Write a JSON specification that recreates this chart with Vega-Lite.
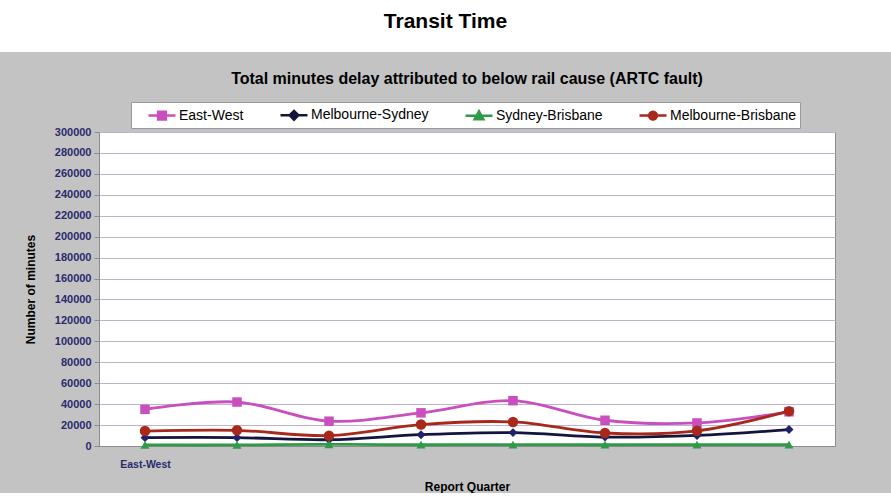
{
  "$schema": "https://vega.github.io/schema/vega-lite/v6.json",
  "background": "#c3c3c3",
  "padding": 0,
  "spacing": 18,
  "config": {
    "font": "Liberation Sans",
    "view": {"stroke": null}
  },
  "vconcat": [
    {
      "width": 891,
      "height": 52,
      "view": {"fill": "white", "stroke": null},
      "data": {"values": [{"heading": "Transit Time"}]},
      "mark": {"type": "text", "fontSize": 21, "fontWeight": "bold", "color": "black", "baseline": "middle", "dy": -4},
      "encoding": {"text": {"field": "heading"}}
    },
    {
      "spacing": 0,
      "hconcat": [
        {
          "width": 23,
          "height": 314,
          "data": {"values": []},
          "mark": "text",
          "encoding": {}
        },
        {
          "width": 736,
          "height": 314,
          "view": {"fill": "white", "stroke": "#8c8c8c"},
          "title": {
            "text": "Total minutes delay attributed to below rail cause (ARTC fault)",
            "fontSize": 16,
            "fontWeight": "bold",
            "color": "black",
            "anchor": "middle",
            "offset": 39
          },
          "data": {
            "values": [
              {"period": 1, "route": "East-West", "minutes": 35000},
              {"period": 2, "route": "East-West", "minutes": 42000},
              {"period": 3, "route": "East-West", "minutes": 23700},
              {"period": 4, "route": "East-West", "minutes": 31700},
              {"period": 5, "route": "East-West", "minutes": 43300},
              {"period": 6, "route": "East-West", "minutes": 24600},
              {"period": 7, "route": "East-West", "minutes": 22000},
              {"period": 8, "route": "East-West", "minutes": 32700},
              {"period": 1, "route": "Melbourne-Sydney", "minutes": 8000},
              {"period": 2, "route": "Melbourne-Sydney", "minutes": 8000},
              {"period": 3, "route": "Melbourne-Sydney", "minutes": 6000},
              {"period": 4, "route": "Melbourne-Sydney", "minutes": 10800},
              {"period": 5, "route": "Melbourne-Sydney", "minutes": 12800},
              {"period": 6, "route": "Melbourne-Sydney", "minutes": 8500},
              {"period": 7, "route": "Melbourne-Sydney", "minutes": 10100},
              {"period": 8, "route": "Melbourne-Sydney", "minutes": 15700},
              {"period": 1, "route": "Sydney-Brisbane", "minutes": 1000},
              {"period": 2, "route": "Sydney-Brisbane", "minutes": 1000},
              {"period": 3, "route": "Sydney-Brisbane", "minutes": 1500},
              {"period": 4, "route": "Sydney-Brisbane", "minutes": 1200},
              {"period": 5, "route": "Sydney-Brisbane", "minutes": 1400},
              {"period": 6, "route": "Sydney-Brisbane", "minutes": 1200},
              {"period": 7, "route": "Sydney-Brisbane", "minutes": 1300},
              {"period": 8, "route": "Sydney-Brisbane", "minutes": 1300},
              {"period": 1, "route": "Melbourne-Brisbane", "minutes": 14300},
              {"period": 2, "route": "Melbourne-Brisbane", "minutes": 15000},
              {"period": 3, "route": "Melbourne-Brisbane", "minutes": 9900},
              {"period": 4, "route": "Melbourne-Brisbane", "minutes": 20500},
              {"period": 5, "route": "Melbourne-Brisbane", "minutes": 23000},
              {"period": 6, "route": "Melbourne-Brisbane", "minutes": 12400},
              {"period": 7, "route": "Melbourne-Brisbane", "minutes": 14500},
              {"period": 8, "route": "Melbourne-Brisbane", "minutes": 33300}
            ]
          },
          "encoding": {
            "x": {
              "field": "period",
              "type": "ordinal",
              "scale": {"type": "point", "padding": 0.5},
              "axis": {
                "title": "Report Quarter",
                "titleFontSize": 12,
                "titleFontWeight": "bold",
                "titleColor": "black",
                "titlePadding": 12,
                "labelExpr": "datum.value == 1 ? 'East-West' : ''",
                "labelAngle": 0,
                "labelFontSize": 10.5,
                "labelFontWeight": "bold",
                "labelColor": "#2a2a6e",
                "labelPadding": 13,
                "ticks": false,
                "domainColor": "#8c8c8c"
              }
            },
            "y": {
              "field": "minutes",
              "type": "quantitative",
              "scale": {"domain": [0, 300000], "nice": false},
              "axis": {
                "title": "Number of minutes",
                "titleFontSize": 12,
                "titleFontWeight": "bold",
                "titleColor": "black",
                "titlePadding": 17,
                "values": [0, 20000, 40000, 60000, 80000, 100000, 120000, 140000, 160000, 180000, 200000, 220000, 240000, 260000, 280000, 300000],
                "format": "d",
                "labelFontSize": 11,
                "labelFontWeight": "bold",
                "labelColor": "#2a2a6e",
                "labelPadding": 3,
                "tickColor": "#8c8c8c",
                "tickSize": 5,
                "domainColor": "#8c8c8c",
                "gridColor": "#bdb5d0",
                "gridWidth": 1
              }
            }
          },
          "layer": [
            {
              "mark": {"type": "line", "interpolate": "catmull-rom", "strokeWidth": 2.8},
              "encoding": {
                "color": {
                  "field": "route",
                  "type": "nominal",
                  "sort": ["East-West", "Melbourne-Sydney", "Sydney-Brisbane", "Melbourne-Brisbane"],
                  "scale": {
                    "domain": ["East-West", "Melbourne-Sydney", "Sydney-Brisbane", "Melbourne-Brisbane"],
                    "range": ["#c94fbf", "#14143c", "#2f9a48", "#a8291c"]
                  },
                  "legend": {
                    "orient": "none",
                    "legendX": 131,
                    "legendY": 102,
                    "direction": "horizontal",
                    "columns": 4,
                    "title": null,
                    "padding": 3,
                    "fillColor": "white",
                    "strokeColor": "#9a9a9a",
                    "columnPadding": 22,
                    "symbolOffset": 18,
                    "labelFontSize": 14,
                    "labelColor": "black",
                    "labelOffset": 7,
                    "labelLimit": 300,
                    "symbolSize": 300,
                    "symbolStrokeWidth": 2.5,
                    "encode": {
                      "symbols": {
                        "update": {
                          "shape": {"signal": "datum.value === 'East-West' ? 'M-1.56,0H1.56M-0.45,-0.45H0.45V0.45H-0.45Z' : datum.value === 'Melbourne-Sydney' ? 'M-1.56,0H1.56M0,-0.5L0.5,0L0,0.5L-0.5,0Z' : datum.value === 'Sydney-Brisbane' ? 'M-1.56,0H1.56M0,-0.5L0.5,0.4H-0.5Z' : 'M-1.56,0H1.56M0.45,0A0.45,0.45,0,1,1,-0.45,0A0.45,0.45,0,1,1,0.45,0Z'"},
                          "fill": {"scale": "color", "field": "value"},
                          "stroke": {"scale": "color", "field": "value"},
                          "fillOpacity": {"value": 1},
                          "strokeWidth": {"value": 2.5}
                        }
                      }
                    }
                  }
                }
              }
            },
            {
              "transform": [{"filter": "datum.route === 'East-West'"}],
              "mark": {"type": "point", "shape": "square", "filled": true, "size": 90, "opacity": 1, "color": "#c94fbf"},
              "encoding": {}
            },
            {
              "transform": [{"filter": "datum.route === 'Melbourne-Sydney'"}],
              "mark": {"type": "point", "shape": "diamond", "filled": true, "size": 80, "opacity": 1, "color": "#22226a"},
              "encoding": {}
            },
            {
              "transform": [{"filter": "datum.route === 'Sydney-Brisbane'"}],
              "mark": {"type": "point", "shape": "triangle-up", "filled": true, "size": 80, "opacity": 1, "color": "#2f9a48"},
              "encoding": {}
            },
            {
              "transform": [{"filter": "datum.route === 'Melbourne-Brisbane'"}],
              "mark": {"type": "point", "shape": "circle", "filled": true, "size": 110, "opacity": 1, "color": "#a8291c"},
              "encoding": {}
            }
          ]
        }
      ]
    }
  ]
}
